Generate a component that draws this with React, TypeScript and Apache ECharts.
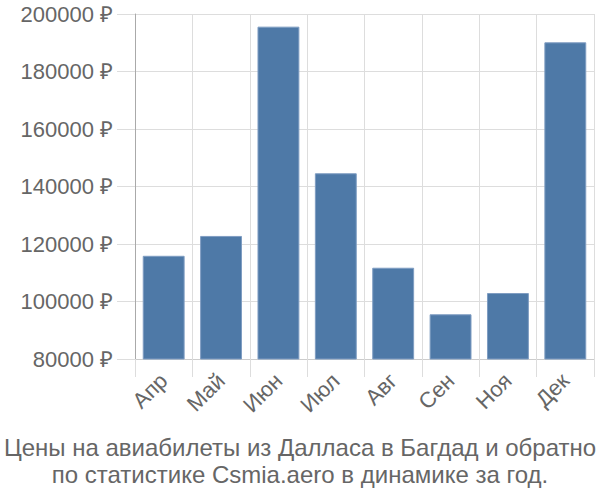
import React, { useEffect, useRef } from "react";
import * as echarts from "echarts";

const categories = ["Апр", "Май", "Июн", "Июл", "Авг", "Сен", "Ноя", "Дек"];
const prices = [115900, 122800, 195600, 144600, 111750, 95550, 102950, 190150];
const yMin = 80000;
const yMax = 200000;
const yStep = 20000;
const titleText = "Цены на авиабилеты из Далласа в Багдад и обратно\nпо статистике Csmia.aero в динамике за год.";

export default function App() {
  const ref = useRef<HTMLDivElement>(null);
  useEffect(() => {
    document.body.style.margin = "0";
    if (!ref.current) return;
    const chart = echarts.init(ref.current, null, { renderer: "svg" });
    const font = "Liberation Sans";
    chart.setOption({
      animation: false,
      textStyle: { fontFamily: font },
      title: {
        text: titleText,
        left: "center",
        top: 429,
        textStyle: {
          fontFamily: font,
          fontSize: 24,
          fontWeight: "normal",
          color: "#666",
          lineHeight: 27,
        },
      },
      grid: { left: 135, right: 6, top: 14, bottom: 141, containLabel: false },
      xAxis: {
        type: "category",
        data: categories,
        axisLine: { show: true, lineStyle: { color: "#ccc", width: 1 } },
        axisTick: { show: true, length: 18, interval: 0, lineStyle: { color: "#ddd" } },
        splitLine: { show: true, interval: 0, lineStyle: { color: "#ddd", width: 1 } },
        axisLabel: {
          rotate: 45,
          fontSize: 22,
          color: "#666",
          fontFamily: font,
          margin: 18,
          interval: 0,
        },
      },
      yAxis: {
        type: "value",
        min: yMin,
        max: yMax,
        interval: yStep,
        axisLine: { show: true, lineStyle: { color: "#aaa", width: 1 } },
        axisTick: { show: true, length: 18, lineStyle: { color: "#ddd" } },
        splitLine: { show: true, lineStyle: { color: "#ddd", width: 1 } },
        axisLabel: {
          formatter: (v: number) => `${v} ₽`,
          fontSize: 22,
          color: "#666",
          fontFamily: font,
          margin: 22,
        },
      },
      series: [
        {
          type: "bar",
          data: prices,
          barWidth: "73%",
          itemStyle: { color: "#4e79a7", borderColor: "#7f9dc2", borderWidth: 1 },
        },
      ],
    });
    return () => chart.dispose();
  }, []);
  return <div ref={ref} style={{ width: 600, height: 500 }} />;
}
